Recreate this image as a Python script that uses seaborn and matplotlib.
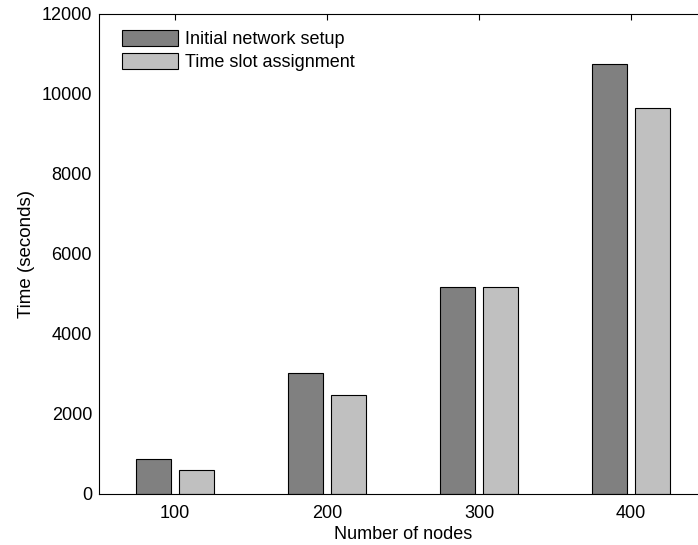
import matplotlib
matplotlib.use("Agg")
import matplotlib.pyplot as plt
import seaborn as sns
import pandas as pd

nodes = ["100", "200", "300", "400"]
initial_setup = [875, 3020, 5175, 10740]
slot_assignment = [610, 2480, 5175, 9660]
series_names = ["Initial network setup", "Time slot assignment"]
colors = ["#808080", "#c0c0c0"]

df = pd.DataFrame({
    "nodes": nodes * 2,
    "time": initial_setup + slot_assignment,
    "series": [series_names[0]] * 4 + [series_names[1]] * 4,
})

sns.set_style("white")
plt.rcParams["font.family"] = ["Liberation Sans", "DejaVu Sans"]
plt.rcParams["text.color"] = "black"
plt.rcParams["axes.labelcolor"] = "black"
plt.rcParams["xtick.color"] = "black"
plt.rcParams["ytick.color"] = "black"

fig = plt.figure(figsize=(6.98, 5.45), dpi=100)
ax = fig.add_axes([99 / 698, 51 / 545, 608 / 698, 480 / 545])
sns.barplot(data=df, x="nodes", y="time", hue="series", palette=colors,
            width=0.565, gap=0.186, edgecolor="black", linewidth=0.8,
            saturation=1, ax=ax, errorbar=None)
ax.set_xlim(-0.5, 3.5)
ax.set_ylim(0, 12000)
ax.set_yticks(range(0, 12001, 2000))
ax.set_xlabel("Number of nodes", fontsize=13, labelpad=3)
ax.set_ylabel("Time (seconds)", fontsize=13.5, labelpad=5)
ax.tick_params(direction="in", top=True, right=True, labelsize=13, length=4, width=0.8)
ax.tick_params(axis="x", pad=8)
ax.tick_params(axis="y", pad=5)
for s in ax.spines.values():
    s.set_linewidth(0.8)
    s.set_color("black")
ax.legend(loc="upper left", frameon=False, fontsize=13,
          bbox_to_anchor=(23 / 608, 1 - 16 / 480),
          borderaxespad=0, borderpad=0,
          handlelength=3.1, handleheight=0.95, handletextpad=0.4, labelspacing=0.3)
fig.savefig("out.png", dpi=100)
